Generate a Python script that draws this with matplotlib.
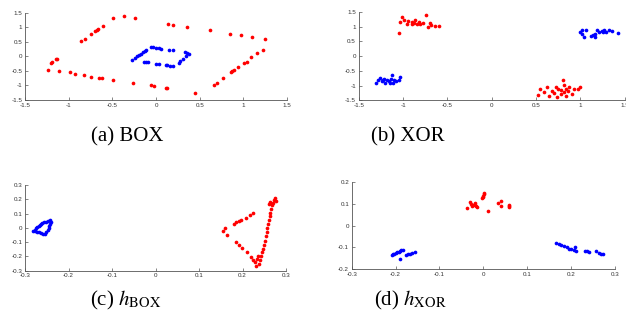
import matplotlib
matplotlib.use('Agg')
import matplotlib.pyplot as plt
from matplotlib.ticker import FormatStrFormatter
import numpy as np

plt.rcParams['axes.unicode_minus'] = False
plt.rcParams['mathtext.fontset'] = 'stix'

# (a) BOX - input points
box_red_x = [-1.24, -1.20, -1.19, -1.15, -1.13, -0.86, -0.81, -0.74, -0.70, -0.68, -0.66, -0.61, -0.49, -0.37, -0.24,
             0.14, 0.19, 0.36, 0.62, 0.85, 0.97, 1.10, 1.25,
             1.22, 1.16, 1.09, 1.04, 1.01, 0.94, 0.89, 0.87, 0.86, 0.77, 0.70, 0.66, 0.45,
             -1.11, -0.98, -0.93, -0.83, -0.75, -0.65, -0.62, -0.49, -0.26, -0.06, -0.02, 0.11, 0.12]
box_red_y = [-0.46, -0.21, -0.18, -0.09, -0.07, 0.53, 0.61, 0.76, 0.87, 0.92, 0.96, 1.06, 1.31, 1.38, 1.31,
             1.13, 1.10, 1.01, 0.90, 0.78, 0.74, 0.68, 0.60,
             0.23, 0.12, -0.03, -0.18, -0.22, -0.35, -0.46, -0.50, -0.53, -0.74, -0.90, -0.99, -1.26,
             -0.51, -0.55, -0.60, -0.65, -0.70, -0.73, -0.75, -0.81, -0.92, -1.00, -1.03, -1.08, -1.10]
box_blue_x = [-0.27, -0.24, -0.22, -0.19, -0.17, -0.15, -0.13, -0.12, -0.06, -0.03, 0.00, 0.03, 0.06, 0.15, 0.19,
              0.33, 0.36, 0.38, 0.34, 0.31, 0.28, 0.26, 0.19, 0.16, 0.12, 0.11, 0.03, 0.00, -0.09, -0.12, -0.14]
box_blue_y = [-0.12, -0.06, 0.00, 0.05, 0.09, 0.14, 0.18, 0.21, 0.33, 0.32, 0.30, 0.28, 0.27, 0.24, 0.22,
              0.15, 0.12, 0.09, 0.02, -0.07, -0.15, -0.21, -0.33, -0.32, -0.31, -0.31, -0.27, -0.25, -0.20, -0.18, -0.18]

# (b) XOR - input points
xor_red_x = [-1.05, -1.03, -1.01, -0.99, -0.96, -0.94, -0.90, -0.90, -0.88, -0.86, -0.84, -0.82, -0.81, -0.78,
             -0.74, -0.72, -0.70, -0.68, -0.64, -0.60,
             0.52, 0.54, 0.59, 0.62, 0.65, 0.68, 0.70, 0.72, 0.74, 0.75, 0.78, 0.80, 0.81, 0.82, 0.84, 0.84,
             0.87, 0.91, 0.93, 0.97, 0.99, 0.86, 0.78]
xor_red_y = [0.79, 1.16, 1.33, 1.24, 1.10, 1.18, 1.15, 1.08, 1.12, 1.21, 1.08, 1.16, 1.08, 1.12,
             1.39, 0.99, 1.12, 1.06, 1.01, 1.03,
             -1.30, -1.10, -1.21, -1.06, -1.35, -1.17, -1.24, -1.06, -1.39, -1.12, -1.28, -0.81, -0.97, -1.21, -1.10, -1.35,
             -1.06, -1.28, -1.12, -1.10, -1.06, -1.17, -1.15]
xor_blue_x = [1.00, 1.02, 1.04, 1.06, 1.12, 1.14, 1.16, 1.17, 1.19, 1.21, 1.24, 1.27, 1.29, 1.32, 1.36, 1.42, 1.02, 1.26,
              -1.30, -1.28, -1.26, -1.23, -1.21, -1.20, -1.18, -1.16, -1.14, -1.13, -1.11, -1.10, -1.08, -1.05, -1.03, -1.24, -1.15]
xor_blue_y = [0.82, 0.76, 0.65, 0.90, 0.67, 0.72, 0.65, 0.76, 0.90, 0.83, 0.85, 0.90, 0.83, 0.88, 0.85, 0.79, 0.88, 0.81,
              -0.90, -0.79, -0.74, -0.81, -0.76, -0.90, -0.79, -0.83, -0.76, -0.64, -0.90, -0.81, -0.85, -0.79, -0.72, -0.85, -0.90]

# (c) h_BOX - hidden representation
hbox_red_x = [0.156, 0.159, 0.165, 0.180, 0.186, 0.192, 0.197, 0.207, 0.217, 0.224,
              0.186, 0.192, 0.199, 0.211, 0.220, 0.225, 0.228, 0.231,
              0.238, 0.240, 0.242, 0.244, 0.247, 0.249, 0.251, 0.254, 0.255, 0.257, 0.259, 0.261, 0.263,
              0.264, 0.266, 0.268, 0.270, 0.272, 0.274, 0.276, 0.263, 0.261, 0.264, 0.234, 0.236]
hbox_red_y = [-0.023, 0.000, -0.047, 0.030, 0.040, 0.047, 0.058, 0.070, 0.089, 0.103,
              -0.100, -0.117, -0.140, -0.168, -0.206, -0.222, -0.241, -0.264,
              -0.250, -0.222, -0.194, -0.171, -0.147, -0.119, -0.091, -0.058, -0.030, -0.002, 0.030, 0.058, 0.082,
              0.105, 0.133, 0.157, 0.175, 0.194, 0.206, 0.187, 0.175, 0.164, 0.184, -0.217, -0.194]
hbox_blue_x = [-0.281, -0.278, -0.275, -0.272, -0.269, -0.266, -0.263, -0.260, -0.257, -0.252, -0.248, -0.243,
               -0.241, -0.243, -0.244, -0.246, -0.248, -0.251, -0.254, -0.258, -0.263, -0.267, -0.272, -0.277]
hbox_blue_y = [-0.019, -0.012, -0.002, 0.007, 0.016, 0.023, 0.030, 0.035, 0.040, 0.044, 0.049, 0.054,
               0.044, 0.030, 0.016, 0.000, -0.016, -0.030, -0.042, -0.040, -0.035, -0.030, -0.026, -0.023]

# (d) h_XOR - hidden representation
hxor_red_x = [-0.037, -0.030, -0.027, -0.024, -0.020, -0.017, -0.014, -0.025, -0.019, -0.002, -0.001, 0.001, 0.002,
              0.000, 0.011, 0.034, 0.040, 0.041, 0.058, 0.059, 0.059]
hxor_red_y = [0.080, 0.108, 0.100, 0.097, 0.094, 0.091, 0.088, 0.091, 0.103, 0.128, 0.137, 0.146, 0.152,
              0.134, 0.066, 0.103, 0.112, 0.091, 0.097, 0.085, 0.091]
hxor_blue_x = [-0.209, -0.206, -0.203, -0.200, -0.196, -0.193, -0.190, -0.187, -0.184, -0.191,
               -0.177, -0.172, -0.167, -0.162, -0.155,
               0.167, 0.173, 0.178, 0.184, 0.190, 0.195, 0.200, 0.206, 0.211, 0.209,
               0.232, 0.237, 0.242, 0.258, 0.264, 0.269, 0.273]
hxor_blue_y = [-0.135, -0.132, -0.129, -0.126, -0.123, -0.120, -0.117, -0.114, -0.111, -0.155,
               -0.135, -0.132, -0.128, -0.125, -0.123,
               -0.078, -0.085, -0.089, -0.094, -0.100, -0.105, -0.109, -0.114, -0.118, -0.097,
               -0.117, -0.118, -0.122, -0.118, -0.125, -0.128, -0.128]

fig = plt.figure(figsize=(6.26, 3.2), dpi=100)

panels = [
    ([0.040, 0.6875, 0.4185, 0.272], box_red_x, box_red_y, box_blue_x, box_blue_y, (-1.5, 1.5), (-1.5, 1.5), 0.5),
    ([0.573, 0.686, 0.425, 0.277], xor_red_x, xor_red_y, xor_blue_x, xor_blue_y, (-1.5, 1.5), (-1.5, 1.5), 0.5),
    ([0.040, 0.154, 0.417, 0.268], hbox_red_x, hbox_red_y, hbox_blue_x, hbox_blue_y, (-0.3, 0.3), (-0.3, 0.3), 0.1),
    ([0.562, 0.159, 0.420, 0.271], hxor_red_x, hxor_red_y, hxor_blue_x, hxor_blue_y, (-0.3, 0.3), (-0.2, 0.2), 0.1),
]

for rect, rx, ry, bx, by, xl, yl, step in panels:
    ax = fig.add_axes(rect)
    ax.scatter(rx, ry, s=7, c='#ff0000', linewidths=0)
    ax.scatter(bx, by, s=7, c='#0000ff', linewidths=0)
    ax.set_xlim(xl)
    ax.set_ylim(yl)
    ax.set_xticks(np.round(np.arange(xl[0], xl[1] + step / 2, step), 2))
    ax.set_yticks(np.round(np.arange(yl[0], yl[1] + step / 2, step), 2))
    ax.xaxis.set_major_formatter(FormatStrFormatter('%g'))
    ax.yaxis.set_major_formatter(FormatStrFormatter('%g'))
    for side in ['top', 'right']:
        ax.spines[side].set_visible(False)
    for side in ['left', 'bottom']:
        ax.spines[side].set_color('#555555')
        ax.spines[side].set_linewidth(0.6)
    ax.tick_params(direction='in', length=2, width=0.5, colors='#555555', labelsize=4.5,
                   labelcolor='#333333', pad=2)
    for lab in ax.get_xticklabels() + ax.get_yticklabels():
        lab.set_family('Liberation Sans')

cap = dict(ha='center', va='center', fontsize=15, family='Liberation Serif')
fig.text(0.203, 0.572, '(a) BOX', **cap)
fig.text(0.652, 0.572, '(b) XOR', **cap)
fig.text(0.201, 0.0625, r'(c) $h_{\mathrm{BOX}}$', **cap)
fig.text(0.655, 0.0625, r'(d) $h_{\mathrm{XOR}}$', **cap)

fig.savefig('out.png', dpi=100)
